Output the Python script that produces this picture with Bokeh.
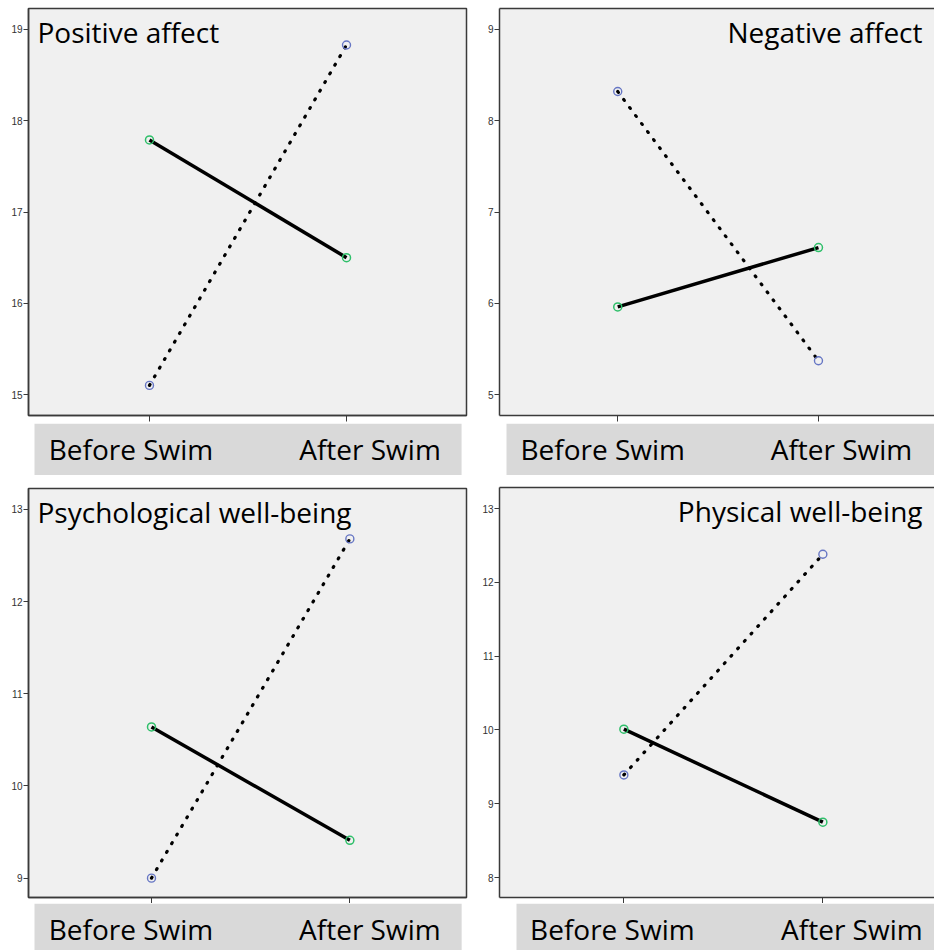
from bokeh.plotting import figure
from bokeh.layouts import column, row
from bokeh.models import Range1d, FixedTicker, LinearAxis, Label, ColumnDataSource
from bokeh.core.properties import value
from bokeh.embed import file_html
from bokeh.resources import INLINE

# ---------------- data ----------------
categories = ["Before Swim", "After Swim"]
cat_pos = [0, 1]

titles = ["Positive affect", "Negative affect", "Psychological well-being", "Physical well-being"]
solid_series = {
    "Positive affect": [17.79, 16.50],
    "Negative affect": [5.96, 6.61],
    "Psychological well-being": [10.64, 9.41],
    "Physical well-being": [10.01, 8.75],
}
dotted_series = {
    "Positive affect": [15.10, 18.83],
    "Negative affect": [8.32, 5.37],
    "Psychological well-being": [9.00, 12.68],
    "Physical well-being": [9.39, 12.38],
}
y_ticks = {
    "Positive affect": [15, 16, 17, 18, 19],
    "Negative affect": [5, 6, 7, 8, 9],
    "Psychological well-being": [9, 10, 11, 12, 13],
    "Physical well-being": [8, 9, 10, 11, 12, 13],
}

# ---------------- styling / layout ----------------
FONT = "Open Sans"
PLOT_BG = "#f0f0f0"
BOX_BG = "#d9d9d9"
FRAME = "#3a3a3a"
GREEN = "#2fbf6a"
BLUE = "#6676c4"

# column-wide borders (frames in one column are aligned by the layout)
COLS = {"left": dict(w=470, mbl=28, mbr=4), "right": dict(w=464, mbl=29, mbr=0)}

cfg = {
    "Positive affect": dict(col="left", h=423, mbt=8, mbb=8, xr=(-0.614, 1.609), yr=(14.77, 19.23),
                            right_panel=False, align="left", ppu=197.0, box_h=52,
                            box_px=(6, 433), offs=[-18.5, 23.5]),
    "Negative affect": dict(col="right", h=423, mbt=8, mbb=8, xr=(-0.589, 1.578), yr=(4.77, 9.23),
                            right_panel=True, align="right", ppu=200.7, box_h=52,
                            box_px=(7, 440), offs=[-15, 23]),
    "Psychological well-being": dict(col="left", h=428, mbt=13, mbb=5, xr=(-0.620, 1.588), yr=(8.79, 13.227),
                                     right_panel=False, align="left", ppu=198.3, box_h=47,
                                     box_px=(6, 433), offs=[-20.5, 20]),
    "Physical well-being": dict(col="right", h=428, mbt=12, mbb=6, xr=(-0.625, 1.561), yr=(7.729, 13.285),
                                right_panel=True, align="right", ppu=199.0, box_h=47,
                                box_px=(17, 440), offs=[-11.5, 29]),
}


def make_panel(name):
    c = cfg[name]
    col = COLS[c["col"]]
    p = figure(width=col["w"], height=c["h"], output_backend="svg", toolbar_location=None,
               x_range=Range1d(*c["xr"]), y_range=Range1d(*c["yr"]),
               min_border_left=col["mbl"], min_border_right=col["mbr"],
               min_border_top=c["mbt"], min_border_bottom=c["mbb"],
               x_axis_type=None, y_axis_type=None)
    p.background_fill_color = PLOT_BG
    p.border_fill_color = "white"
    p.xgrid.visible = False
    p.ygrid.visible = False
    if c["right_panel"]:
        p.outline_line_color = None
    else:
        p.outline_line_color = FRAME
        p.outline_line_width = 1.5

    yax = LinearAxis(ticker=FixedTicker(ticks=y_ticks[name]))
    yax.axis_line_color = FRAME
    yax.axis_line_width = 1.5
    yax.major_tick_line_color = FRAME
    yax.major_tick_out = 5
    yax.major_tick_in = 0
    yax.minor_tick_line_color = None
    yax.major_label_text_font = "Arial"
    yax.major_label_text_font_size = "10px"
    yax.major_label_text_color = "#333333"
    yax.major_label_standoff = 1
    p.add_layout(yax, "left")

    xax = LinearAxis(ticker=FixedTicker(ticks=cat_pos))
    xax.axis_line_color = FRAME
    xax.axis_line_width = 1.5
    xax.major_tick_line_color = FRAME
    xax.major_tick_out = 6
    xax.major_tick_in = 0
    xax.minor_tick_line_color = None
    xax.major_label_text_font_size = "0px"
    xax.major_label_standoff = 0
    xax.major_label_overrides = {0: "", 1: ""}
    p.add_layout(xax, "below")

    if c["right_panel"]:
        top = LinearAxis(ticker=FixedTicker(ticks=[]))
        top.axis_line_color = FRAME
        top.axis_line_width = 1.5
        top.major_tick_line_color = None
        top.minor_tick_line_color = None
        top.major_label_text_font_size = "0px"
        top.major_label_standoff = 0
        p.add_layout(top, "above")

    src_d = ColumnDataSource(dict(x=cat_pos, y=dotted_series[name]))
    src_s = ColumnDataSource(dict(x=cat_pos, y=solid_series[name]))
    p.line("x", "y", source=src_s, line_color="black", line_width=3.5)
    p.line("x", "y", source=src_d, line_color="black", line_width=3.2,
           line_dash="1 9", line_cap="round")
    p.scatter("x", "y", source=src_s, marker="circle", size=8, fill_color=None,
              line_color=GREEN, line_width=1.5)
    p.scatter("x", "y", source=src_d, marker="circle", size=8, fill_color=None,
              line_color=BLUE, line_width=1.4)

    if c["align"] == "left":
        lab = Label(x=c["xr"][0], y=c["yr"][1], x_offset=9, y_offset=-4, text=name,
                    text_font=FONT, text_font_size="28px", text_color="black",
                    text_baseline="top", text_align="left")
    else:
        lab = Label(x=c["xr"][1], y=c["yr"][1], x_offset=-12, y_offset=-4, text=name,
                    text_font=FONT, text_font_size="28px", text_color="black",
                    text_baseline="top", text_align="right")
    p.add_layout(lab)
    return p


def make_box(name):
    c = cfg[name]
    col = COLS[c["col"]]
    f = figure(width=col["w"], height=c["box_h"], output_backend="svg", toolbar_location=None,
               x_range=Range1d(*c["xr"]), y_range=Range1d(0, 1),
               min_border_left=col["mbl"], min_border_right=col["mbr"],
               min_border_top=0, min_border_bottom=0,
               x_axis_type=None, y_axis_type=None)
    f.background_fill_color = "white"
    f.border_fill_color = "white"
    f.outline_line_color = None
    f.xgrid.visible = False
    f.ygrid.visible = False
    # grey label band, from pixel insets within the frame
    bl = c["xr"][0] + c["box_px"][0] / c["ppu"]
    br = c["xr"][0] + c["box_px"][1] / c["ppu"]
    f.quad(left=[bl], right=[br], bottom=[0], top=[1], fill_color=BOX_BG, line_color=None)
    src = ColumnDataSource(dict(x=cat_pos, y=[1, 1], t=categories, xo=c["offs"]))
    f.text("x", "y", text="t", source=src, x_offset="xo", y_offset=25,
           text_font=value(FONT), text_font_size="28px", text_color="black",
           text_align="center", text_baseline="alphabetic")
    return f


left_col = column(make_panel(titles[0]), make_box(titles[0]),
                  make_panel(titles[2]), make_box(titles[2]), spacing=0)
right_col = column(make_panel(titles[1]), make_box(titles[1]),
                   make_panel(titles[3]), make_box(titles[3]), spacing=0)
layout = row(left_col, right_col, spacing=0)

open("out.html", "w").write(file_html(layout, INLINE))
